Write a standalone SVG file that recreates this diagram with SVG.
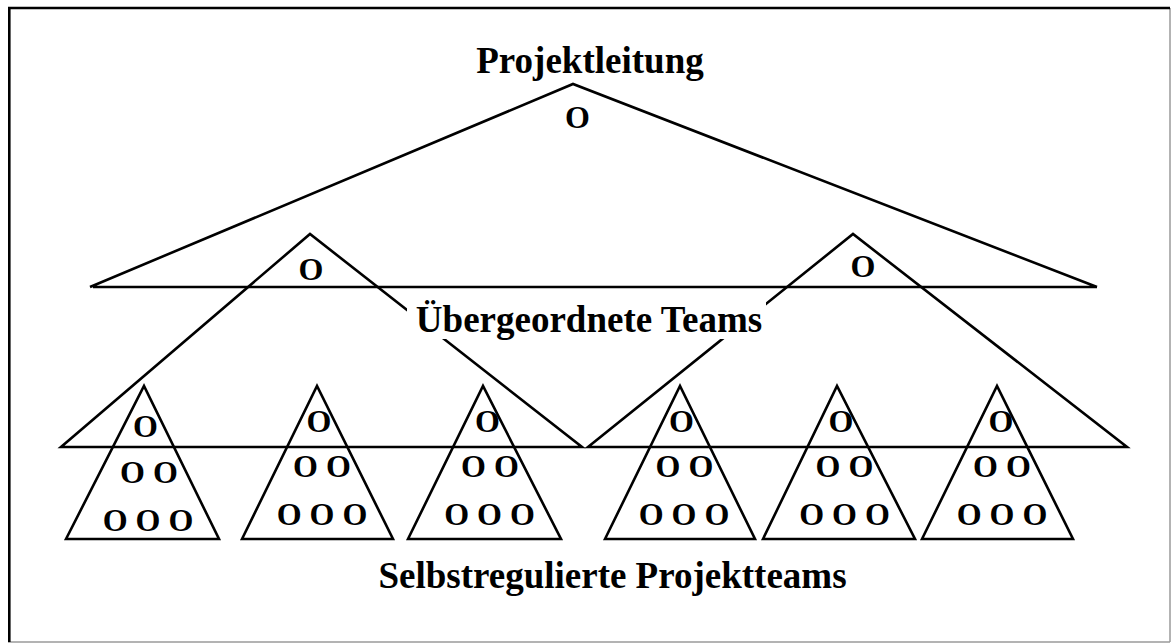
<svg xmlns="http://www.w3.org/2000/svg" width="1171" height="643" viewBox="0 0 1171 643">
<style>
.ln{stroke:#000;stroke-width:2.6;fill:none;stroke-linecap:butt;stroke-linejoin:miter}
.lbl{font-family:"Liberation Serif","Times New Roman",serif;font-weight:bold;font-size:37px;fill:#000;text-anchor:middle}
.o{font-family:"Liberation Serif","Times New Roman",serif;font-weight:bold;font-size:32px;fill:#000;text-anchor:middle}
</style>
<rect x="0" y="0" width="1171" height="643" fill="#fff"/>
<g id="frame">
<line x1="1170" y1="8" x2="1170" y2="642" stroke="#9a9a9a" stroke-width="1.5"/>
<line x1="8" y1="642" x2="1170" y2="642" stroke="#9a9a9a" stroke-width="1.5"/>
<line x1="8" y1="8" x2="1170" y2="8" stroke="#000" stroke-width="2.5"/>
<line x1="9.3" y1="7" x2="9.3" y2="642" stroke="#000" stroke-width="2.6"/>
</g>
<g id="connectors"></g>
<g id="projektleitung">
<path class="ln" d="M90,287 L573,84 L1097,287 M93,287 L1097,287"/>
<text class="o" x="577.5" y="128">O</text>
<text class="lbl" x="590" y="72.5">Projektleitung</text>
</g>
<g id="team-left">
<path class="ln" d="M61,447 L310,234 L582,447 Z"/>
<text class="o" x="311" y="280">O</text>
</g>
<g id="team-right">
<path class="ln" d="M588,447 L853,234 L1127,447 Z"/>
<text class="o" x="863" y="277">O</text>
</g>
<g id="label-uebergeordnet">
<rect x="407" y="300" width="359" height="39" fill="#fff"/>
<text class="lbl" x="589" y="332">Übergeordnete Teams</text>
</g>
<g id="projektteam-1">
<path class="ln" d="M66,539 L144,386 L219,539 Z"/>
<text class="o" x="145.5" y="437">O</text>
<text class="o" x="149" y="483">O O</text>
<text class="o" x="148" y="531">O O O</text>
</g>
<g id="projektteam-2">
<path class="ln" d="M242,539 L317,386 L393,539 Z"/>
<text class="o" x="319" y="432">O</text>
<text class="o" x="322" y="477">O O</text>
<text class="o" x="322" y="525">O O O</text>
</g>
<g id="projektteam-3">
<path class="ln" d="M408,539 L483,386 L561,539 Z"/>
<text class="o" x="487.5" y="432">O</text>
<text class="o" x="490" y="477">O O</text>
<text class="o" x="489.5" y="525">O O O</text>
</g>
<g id="projektteam-4">
<path class="ln" d="M605,539 L680,386 L755,539 Z"/>
<text class="o" x="681.5" y="432">O</text>
<text class="o" x="684.5" y="477">O O</text>
<text class="o" x="684" y="525">O O O</text>
</g>
<g id="projektteam-5">
<path class="ln" d="M763,539 L837,386 L915,539 Z"/>
<text class="o" x="841" y="432">O</text>
<text class="o" x="844.5" y="477">O O</text>
<text class="o" x="844.5" y="525">O O O</text>
</g>
<g id="projektteam-6">
<path class="ln" d="M922,539 L997,386 L1073,539 Z"/>
<text class="o" x="1001" y="432">O</text>
<text class="o" x="1002" y="477">O O</text>
<text class="o" x="1002" y="525">O O O</text>
</g>
<g id="label-selbstreguliert">
<text class="lbl" x="612.5" y="588">Selbstregulierte Projektteams</text>
</g>
</svg>
